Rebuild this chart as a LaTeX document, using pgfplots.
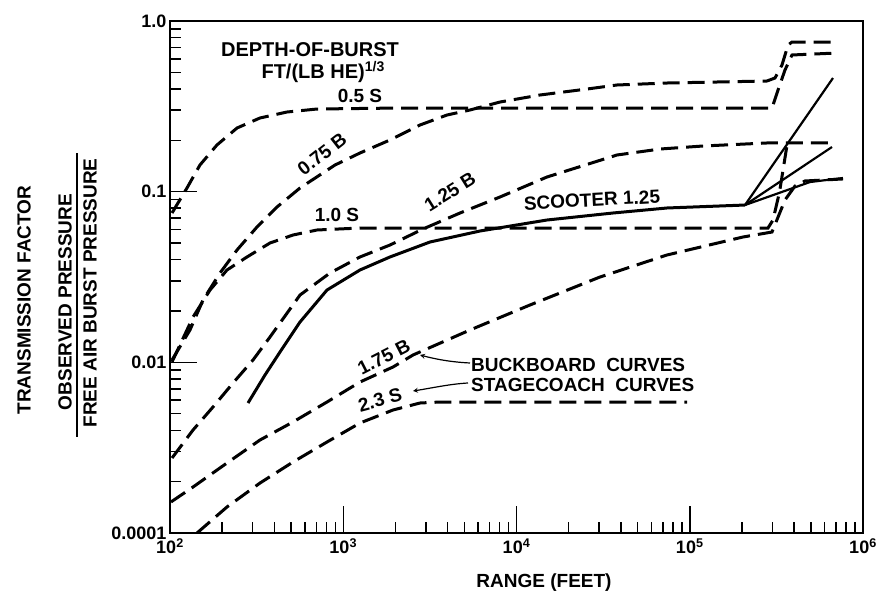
\documentclass[border=0pt]{standalone}
\usepackage{fontspec}
\setmainfont{Liberation Sans}
\usepackage{pgfplots}
\pgfplotsset{compat=1.18}
\newcommand\lf{\fontsize{19}{19}\selectfont\bfseries}
\newcommand\hf{\fontsize{20}{20}\selectfont\bfseries}
\newcommand\af{\fontsize{19}{19}\selectfont\bfseries}
\newcommand\tf{\fontsize{18}{18}\selectfont\bfseries}
\pgfplotsset{
  dcurve/.style={black, line width=3pt, dash pattern=on 17pt off 8pt},
  scurve/.style={black, line width=3pt},
  fcurve/.style={black, line width=2.2pt},
}
\begin{document}
\begin{tikzpicture}
\useasboundingbox (-170pt,-58pt) rectangle (710pt,533pt);
\begin{axis}[
  at={(0pt,0pt)}, anchor=south west,
  scale only axis, width=693pt, height=512pt,
  xmode=log, ymode=log,
  xmin=100, xmax=1000000, ymin=0.001, ymax=1,
  xtick={100,1000,10000,100000,1000000},
  xticklabels={{\tf 10\textsuperscript{2}},{\tf 10\textsuperscript{3}},{\tf 10\textsuperscript{4}},{\tf 10\textsuperscript{5}},{\tf 10\textsuperscript{6}}},
  ytick={0.001,0.01,0.1,1},
  yticklabels={{\tf 0.0001},{\tf 0.01},{\tf 0.1},{\tf 1.0}},
  minor xtick={200,300,400,500,600,700,800,900,2000,3000,4000,5000,6000,7000,8000,9000,20000,30000,40000,50000,60000,70000,80000,90000,200000,300000,400000,500000,600000,700000,800000,900000},
  minor ytick={0.002,0.003,0.004,0.005,0.006,0.007,0.008,0.009,0.02,0.03,0.04,0.05,0.06,0.07,0.08,0.09,0.2,0.3,0.4,0.5,0.6,0.7,0.8,0.9},
  tick align=inside, xtick pos=bottom, ytick pos=left,
  major tick length=27pt, minor tick length=11pt,
  tick style={black, line width=1.5pt},
  axis line style={line width=1.8pt},
  xticklabel style={yshift=-2pt},
]
% 0.5 S
\addplot[dcurve] coordinates {(102.7,0.0750) (125.3,0.1051) (148.9,0.1433) (186.6,0.1877) (243.8,0.2361) (330.7,0.2702) (473.2,0.2929) (705.5,0.3050) (2126,0.3092) (298300,0.3092) (323200,0.394) (354600,0.5163) (389300,0.6322) (707900,0.6494)};
% 0.75 B
\addplot[dcurve] coordinates {(102.7,0.01032) (130.4,0.01547) (155.1,0.02318) (194.4,0.03338) (243.6,0.04552) (317.8,0.06209) (414.6,0.08130) (562.9,0.1051) (896.4,0.1433) (1249,0.1685) (1861,0.2008) (2773,0.2458) (3971,0.2813) (5390,0.3010) (8031,0.3352) (13670,0.3685) (25520,0.3995) (38030,0.4217) (73910,0.4332) (279200,0.4451) (310500,0.4634) (340800,0.5524) (369200,0.7235) (389300,0.7533) (707900,0.7533)};
% 1.0 S
\addplot[dcurve] coordinates {(102.7,0.01005) (135.8,0.01843) (170.2,0.02653) (213.3,0.03476) (278.2,0.04143) (377.7,0.05003) (512.9,0.05572) (705.5,0.05962) (1249,0.06124) (282900,0.06124) (302400,0.06823) (330000,0.1) (366000,0.1929)};
% 1.25 B
\addplot[dcurve] coordinates {(102.7,0.002751) (135.8,0.004013) (177.1,0.005474) (231.0,0.007565) (301.4,0.01032) (377.7,0.01407) (562.9,0.02480) (838.6,0.03338) (1249,0.04143) (1861,0.04868) (2886,0.06043) (4720,0.07499) (8031,0.09306) (15000,0.1219) (38030,0.1640) (67340,0.1778) (119300,0.1852) (279200,0.1929) (644900,0.1929)};
% 1.75 B
\addplot[dcurve] coordinates {(101.3,0.001520) (135.8,0.001860) (213.3,0.002572) (330.7,0.003507) (512.9,0.004472) (805.7,0.005855) (1249,0.007669) (1938,0.009391) (2527,0.01104) (5390,0.01547) (11970,0.02168) (30340,0.03162) (73910,0.04255) (203000,0.05425) (298300,0.05801) (354600,0.08940) (405100,0.1079) (462700,0.1155) (766500,0.1187)};
% 2.3 S
\addplot[dcurve] coordinates {(143.2,0.001) (213.3,0.001421) (330.7,0.001963) (512.9,0.002606) (805.7,0.003413) (1249,0.004411) (1938,0.005256) (2773,0.005777) (3617,0.005855) (96410,0.005855)};
% Scooter 1.25
\addplot[scurve] coordinates {(282.0,0.005777) (353.4,0.008428) (431.3,0.01149) (562.9,0.01723) (805.7,0.02653) (1249,0.03476) (1861,0.04143) (3168,0.05071) (6157,0.05882) (15000,0.06823) (36060,0.07499) (73910,0.08023) (208400,0.08351)};
\addplot[fcurve] coordinates {(208400,0.08351) (671200,0.4634)};
\addplot[fcurve] coordinates {(208400,0.08351) (662300,0.1827)};
\addplot[fcurve] coordinates {(208400,0.08351) (494300,0.1139) (766500,0.1202)};
\end{axis}
% texts (axis SW at origin, 1pt = 1px of reference)
\node[font=\hf] at (140pt,483pt) {DEPTH-OF-BURST};
\node[font=\hf, anchor=west] at (88pt,461pt) {FT/(LB HE)\textsuperscript{1/3}};
\node[font=\lf] at (190pt,437pt) {0.5 S};
\node[font=\lf, rotate=38] at (152pt,379pt) {0.75 B};
\node[font=\lf] at (167pt,318pt) {1.0 S};
\node[font=\lf, rotate=32] at (280pt,341pt) {1.25 B};
\node[font=\lf, rotate=3] at (422pt,333pt) {SCOOTER 1.25};
\node[font=\lf, rotate=27] at (214pt,176pt) {1.75 B};
\node[font=\lf, rotate=15] at (210pt,133pt) {2.3 S};
\node[font=\lf, anchor=west, inner sep=1pt] at (300pt,168pt) {BUCKBOARD\ \ CURVES};
\node[font=\lf, anchor=west, inner sep=1pt] at (300pt,148pt) {STAGECOACH\ \ CURVES};
\draw[line width=1.2pt, -stealth] (300pt,170pt) .. controls (280pt,171pt) and (265pt,174pt) .. (250pt,178pt);
\draw[line width=1.2pt, -stealth] (298pt,150pt) .. controls (280pt,149pt) and (262pt,145pt) .. (243pt,142pt);
\node[font=\af] at (374pt,-50pt) {RANGE (FEET)};
\node[font=\af, rotate=90] at (-146pt,233pt) {TRANSMISSION FACTOR};
\node[font=\af, rotate=90] at (-105pt,231pt) {OBSERVED PRESSURE};
\draw[line width=1.5pt] (-93pt,96pt) -- (-93pt,380pt);
\node[font=\af, rotate=90] at (-80pt,240pt) {FREE AIR BURST PRESSURE};
\end{tikzpicture}
\end{document}
